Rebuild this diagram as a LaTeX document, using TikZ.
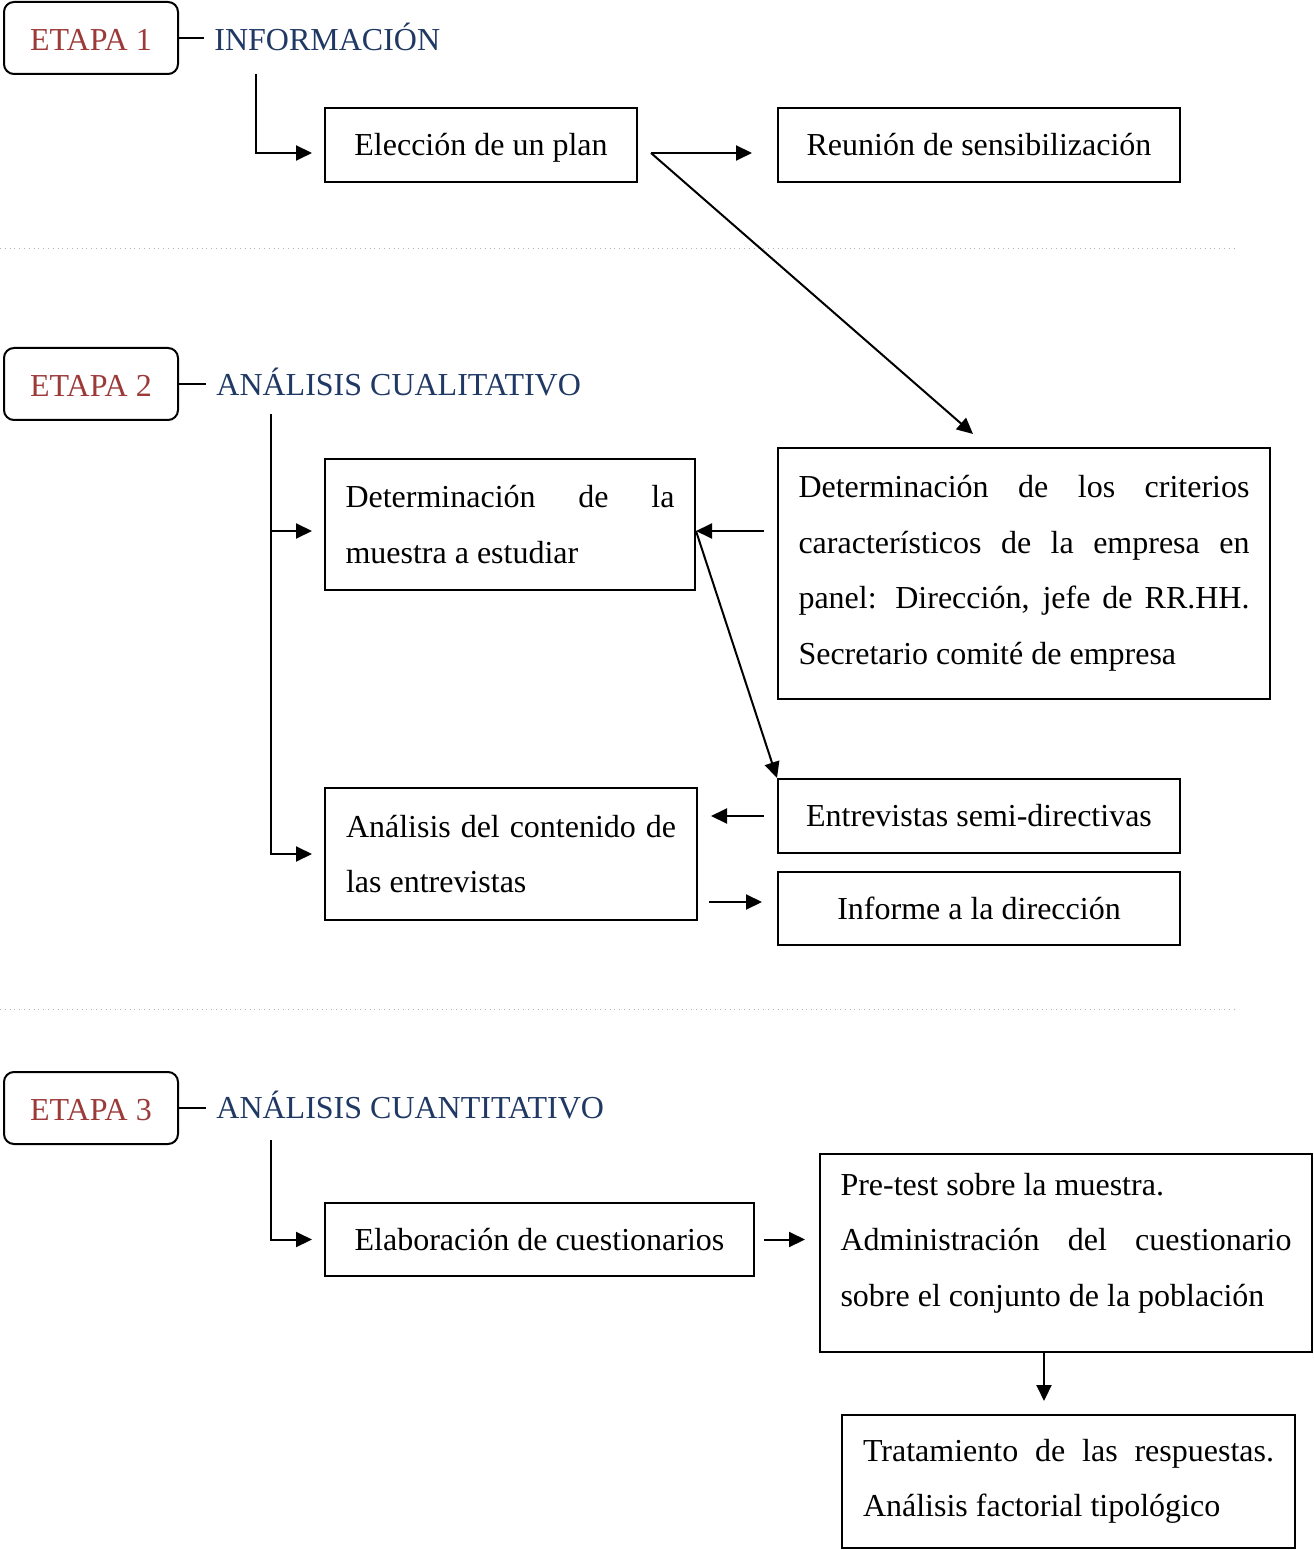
\documentclass[tikz,border=0pt]{standalone}
\usepackage{fontspec}
\setmainfont{Liberation Serif}
\usetikzlibrary{arrows.meta,positioning,calc}
\definecolor{rojoEtapa}{RGB}{155,58,56}
\definecolor{azulFase}{RGB}{31,56,100}
\hyphenpenalty=10000
\exhyphenpenalty=10000
\tolerance=9999

\tikzset{
  etapa/.style={draw,rounded corners=5pt,line width=1pt,minimum width=87pt,minimum height=36pt,text=rojoEtapa,inner sep=0pt,text height=13.6pt,text depth=1pt},
  fase/.style={text=azulFase,inner sep=0pt,inner xsep=5pt,anchor=base west},
  caja/.style={draw,line width=1pt,inner sep=0pt},
  renglon/.style={text height=11.5pt,text depth=1pt},
  texto/.style={align=justify},
  flecha/.style={line width=1pt,-{Triangle[length=8pt,width=7.5pt]}},
  linea/.style={line width=1pt},
  separador/.style={gray!60,dotted,line width=0.4pt}
}

\begin{document}
\begin{tikzpicture}[x=0.5pt,y=-0.5pt,font=\fontsize{16}{27.75}\selectfont]
  \useasboundingbox (0,0) rectangle (1313,1550);

  % Etapa 1
  \node[etapa] (e1) at (91,38) {ETAPA 1};
  \node[fase] (f1) at (204,51) {INFORMACIÓN};
  \draw[linea] (e1.east) -- (e1.east -| f1.west);

  \node[caja,renglon,minimum width=156pt,minimum height=37pt] (plan) at (481,145) {Elección de un plan};
  \node[caja,renglon,minimum width=201pt,minimum height=37pt] (reunion) at (979,145) {Reunión de sensibilización};

  \coordinate (b1) at (256,74);
  \coordinate (salida) at (651,153);
  \coordinate (llegada) at (973,434);
  \draw[flecha,shorten >=6pt] (b1) |- ($(plan.west)+(0,8)$);
  \draw[flecha,shorten >=12.5pt] (salida) -- (salida -| reunion.west);
  \draw[flecha] (salida) -- (llegada);

  \draw[separador] (0,248) -- (1236,248);

  % Etapa 2
  \node[etapa] (e2) at (91,384) {ETAPA 2};
  \node[fase] (f2) at (206,396) {ANÁLISIS CUALITATIVO};
  \draw[linea] (e2.east) -- (e2.east -| f2.west);

  \node[caja,texto,minimum width=185pt,minimum height=65.5pt,text width=164.5pt] (muestra) at (510,524.5)
    {Determinación de la muestra a estudiar};
  \node[caja,texto,minimum width=246pt,minimum height=125.5pt,text width=225.5pt] (criterios) at (1024,573.5)
    {Determinación de los criterios característicos de la empresa en panel: Dirección, jefe de RR.HH. Secretario comité de empresa};
  \node[caja,renglon,minimum width=201pt,minimum height=37pt] (entrevistas) at (979,816) {Entrevistas semi-directivas};
  \node[caja,texto,minimum width=186pt,minimum height=66pt,text width=165pt] (contenido) at (511,854)
    {Análisis del contenido de las entrevistas};
  \node[caja,renglon,minimum width=201pt,minimum height=36.5pt] (informe) at (979,908.5) {Informe a la dirección};

  \coordinate (b2) at (271,414);
  \coordinate (mE) at ($(muestra.east)+(0,6.5)$);
  \coordinate (cS) at (709,902);
  \draw[flecha,shorten >=6pt] (b2) |- ($(muestra.west)+(0,6.5)$);
  \draw[flecha,shorten >=6pt] (b2) |- (contenido.west);
  \draw[flecha,shorten <=6.5pt] (criterios.west |- mE) -- (mE);
  \draw[flecha] (mE) -- (entrevistas.north west);
  \draw[flecha,shorten <=6.5pt,shorten >=6.5pt] (entrevistas.west) -- (contenido.east |- entrevistas.west);
  \draw[flecha,shorten >=7.5pt] (cS) -- (cS -| informe.west);

  \draw[separador] (0,1009) -- (1236,1009);

  % Etapa 3
  \node[etapa] (e3) at (91,1108) {ETAPA 3};
  \node[fase] (f3) at (206,1118) {ANÁLISIS CUANTITATIVO};
  \draw[linea] (e3.east) -- (e3.east -| f3.west);

  \node[caja,renglon,minimum width=214.5pt,minimum height=36.5pt] (cuest) at (539.5,1239.5) {Elaboración de cuestionarios};
  \node[caja,texto,minimum width=246pt,minimum height=99pt,text width=225.5pt] (pretest) at (1066,1253)
    {Pre-test sobre la muestra.\\ Administración del cuestionario sobre el conjunto de la población\par\kern10pt};
  \node[caja,texto,minimum width=226.5pt,minimum height=66.5pt,text width=205.5pt] (trat) at (1068.5,1481.5)
    {Tratamiento de las respuestas. Análisis factorial tipológico};

  \coordinate (b3) at (271,1140);
  \draw[flecha,shorten >=6pt] (b3) |- (cuest.west);
  \draw[flecha,shorten <=4.5pt,shorten >=7pt] (cuest.east) -- (pretest.west |- cuest.east);
  \draw[flecha,shorten >=6.5pt] ($(pretest.south)+(-22,0)$) -- ($(trat.north)+(-24.5,0)$);
\end{tikzpicture}
\end{document}
